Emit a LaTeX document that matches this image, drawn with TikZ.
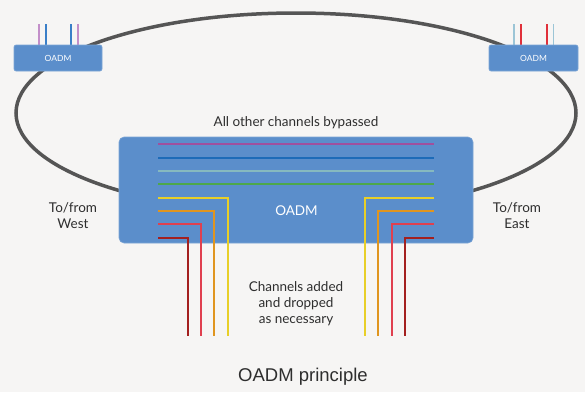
\documentclass[tikz,border=0pt]{standalone}
\usepackage{fontspec}
\setmainfont{Lato}
\newfontfamily\capfont{Liberation Sans}
\definecolor{bg}{HTML}{F6F5F4}
\definecolor{boxblue}{HTML}{5B8ECB}
\definecolor{ring}{HTML}{555555}
\definecolor{txt}{HTML}{2E2E2E}
\definecolor{cpurple}{HTML}{A0509E}
\definecolor{cblue}{HTML}{1D6BB8}
\definecolor{cteal}{HTML}{86B9BF}
\definecolor{cgreen}{HTML}{4DA84A}
\definecolor{cyellow}{HTML}{E8CF28}
\definecolor{corange}{HTML}{E0951F}
\definecolor{cred}{HTML}{E0404F}
\definecolor{cdred}{HTML}{A3201F}
\definecolor{lpurple}{HTML}{C38FC9}
\definecolor{lblue}{HTML}{3A7FC8}
\definecolor{lteal}{HTML}{9CC5D6}
\definecolor{lred}{HTML}{E0303A}
\tikzset{
  oadmbox/.style={fill=boxblue, draw=boxblue!80!white, line width=0.6pt, rounded corners=2pt, inner sep=0pt, text=white},
  chan/.style={line width=2pt},
  tick/.style={line width=1.6pt},
  lbl/.style={text=txt, font=\fontsize{13.5}{15.5}\selectfont, align=center},
}
\begin{document}
\begin{tikzpicture}[x=1pt,y=-1pt]
\useasboundingbox[fill=bg] (0,0) rectangle (585,392);
% ring
\draw[ring, line width=3.5pt] (296,113) ellipse [x radius=280pt, y radius=100pt];
% small OADM boxes with channel ticks
\draw[tick, lpurple] (39,24) -- (39,45);
\draw[tick, lblue] (45.7,24) -- (45.7,45);
\draw[tick, lblue] (71,24) -- (71,45);
\draw[tick, lpurple] (77.7,24) -- (77.7,45);
\draw[tick, lteal] (514,24) -- (514,45);
\draw[tick, lred] (521,24) -- (521,45);
\draw[tick, lred] (546.7,24) -- (546.7,45);
\draw[tick, lteal] (553.3,24) -- (553.3,45);
\node[oadmbox, minimum width=88pt, minimum height=26pt, font=\fontsize{8.5}{9}\selectfont] (west) at (58,58) {OADM};
\node[oadmbox, minimum width=89pt, minimum height=26pt, font=\fontsize{8.5}{9}\selectfont] (east) at (533.5,58) {OADM};
% main OADM
\node[oadmbox, rounded corners=5pt, minimum width=354pt, minimum height=106pt] (main) at (296,190) {};
\node[text=white, font=\fontsize{13.5}{14}\selectfont] (mainlbl) at (296.5,210.5) {OADM};
% bypassed channels
\draw[chan, cpurple] (158,144.3) -- (434,144.3);
\draw[chan, cblue] (158,157.7) -- (434,157.7);
\draw[chan, cteal] (158,171) -- (434,171);
\draw[chan, cgreen] (158,184.3) -- (434,184.3);
% dropped (west side)
\draw[chan, cyellow] (158,197.6) -- (227.7,197.6) -- (227.7,336);
\draw[chan, corange] (158,211) -- (214.3,211) -- (214.3,336);
\draw[chan, cred] (158,224.3) -- (201,224.3) -- (201,336);
\draw[chan, cdred] (158,237.6) -- (187.7,237.6) -- (187.7,336);
% added (east side)
\draw[chan, cyellow] (434,197.6) -- (365,197.6) -- (365,336);
\draw[chan, corange] (434,211) -- (378.3,211) -- (378.3,336);
\draw[chan, cred] (434,224.3) -- (391.7,224.3) -- (391.7,336);
\draw[chan, cdred] (434,237.6) -- (405,237.6) -- (405,336);
% labels
\node[lbl] (bypass) at (296,123) {All other channels bypassed};
\node[lbl] (wlbl) at (73,215.5) {To/from\\West};
\node[lbl] (elbl) at (517,215.5) {To/from\\East};
\node[lbl, font=\fontsize{13.5}{16.3}\selectfont] (addrop) at (296,303.5) {Channels added\\and dropped\\as necessary};
\node[text=txt, font=\capfont\fontsize{18.5}{20}\selectfont] (caption) at (303,377) {OADM principle};
\end{tikzpicture}
\end{document}
